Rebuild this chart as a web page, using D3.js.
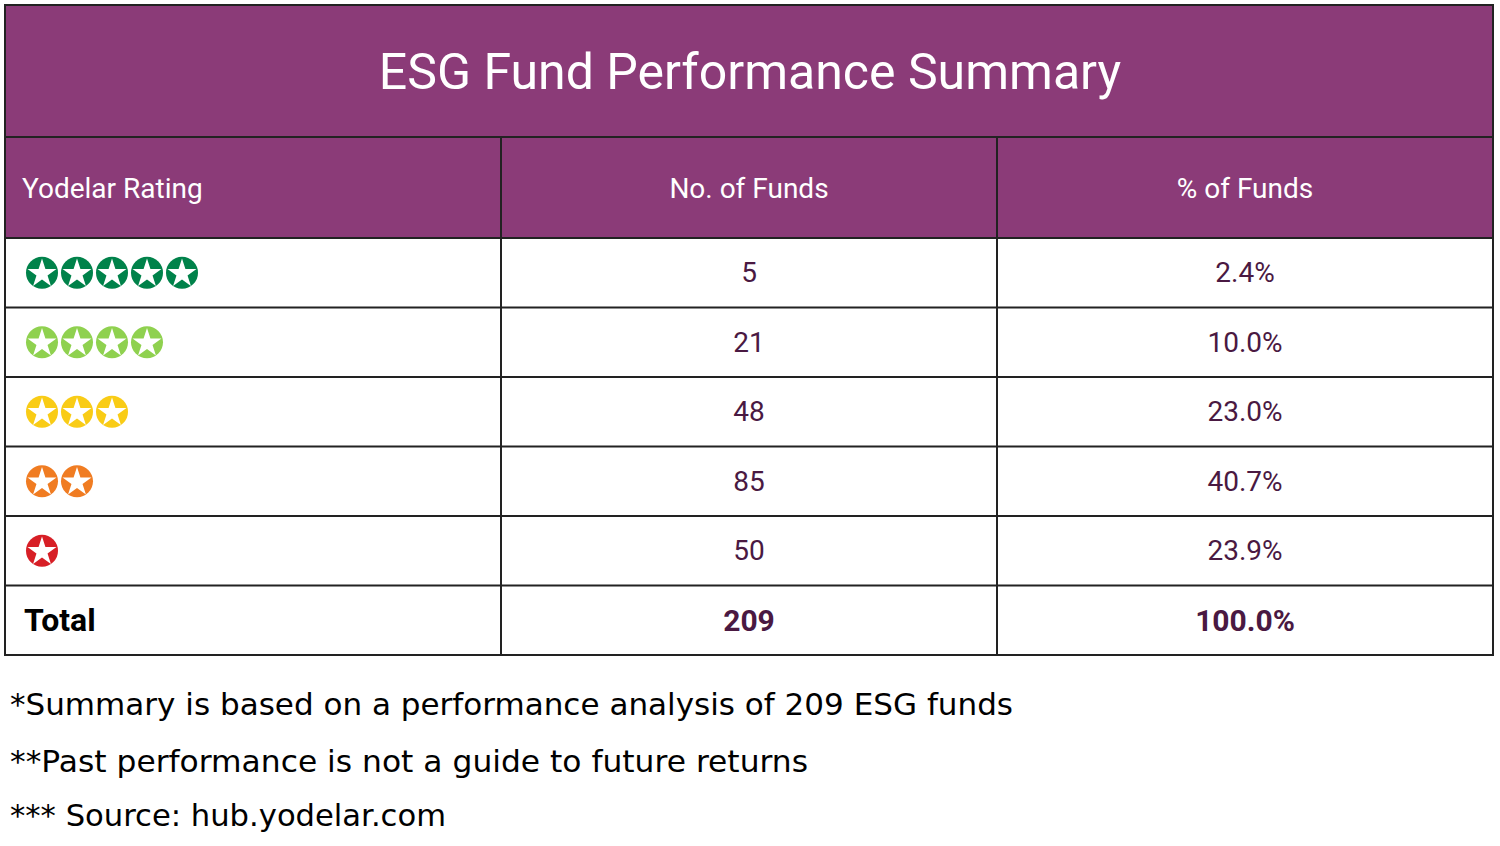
<!DOCTYPE html>
<html lang="en">
<head>
<meta charset="UTF-8">
<title>ESG Fund Performance Summary</title>
<script src="https://d3js.org/d3.v7.min.js"></script>
<style>body{margin:0;background:#fff}</style>
</head>
<body>
<div id="chart"></div>
<script>
// data
const title = "ESG Fund Performance Summary";
const headers = ["Yodelar Rating", "No. of Funds", "% of Funds"];
const stars = [5, 4, 3, 2, 1];
const funds = [5, 21, 48, 85, 50];
const pcts = ["2.4%", "10.0%", "23.0%", "40.7%", "23.9%"];
const totalLabel = "Total", totalFunds = 209, totalPct = "100.0%";
const starColors = ["#00824a", "#8fd14f", "#f9cc16", "#f07c22", "#d71f26"];
const notes = ["*Summary is based on a performance analysis of 209 ESG funds",
  "**Past performance is not a guide to future returns",
  "*** Source: hub.yodelar.com"];

const W = 1500, H = 846, purple = "#8b3b78", textCol = "#4a1942";
const svg = d3.select("#chart").append("svg").attr("width", W).attr("height", H);

const x = d3.scaleBand().domain([0, 1, 2]).range([5, 1493]);
const rowIdx = d3.range(stars.length + 1);
const y = d3.scaleBand().domain(rowIdx).range([238, 655]);

// title + header band
svg.append("rect").attr("x", 5).attr("y", 5).attr("width", 1488).attr("height", 233).attr("fill", purple);
svg.append("text").attr("x", W / 2).attr("y", 72).attr("text-anchor", "middle")
  .attr("dominant-baseline", "central").attr("fill", "#fff")
  .style("font", "50px Roboto").text(title);
svg.append("text").attr("x", 22).attr("y", 188).attr("dominant-baseline", "central")
  .attr("fill", "#fff").style("font", "28px Roboto").text(headers[0]);
headers.slice(1).forEach((h, i) => {
  svg.append("text").attr("x", x(i + 1) + x.bandwidth() / 2).attr("y", 188)
    .attr("text-anchor", "middle").attr("dominant-baseline", "central")
    .attr("fill", "#fff").style("font", "28px Roboto").text(h);
});

// body rows
const rows = svg.selectAll("g.row").data(rowIdx).join("g")
  .attr("transform", d => `translate(0,${y(d) + y.bandwidth() / 2})`);
rows.each(function(r) {
  const g = d3.select(this);
  const isTotal = r === stars.length;
  const weight = isTotal ? "bold " : "";
  if (isTotal) {
    g.append("text").attr("x", 24).attr("dominant-baseline", "central")
      .attr("fill", "#000").style("font", "bold 32px Roboto").text(totalLabel);
  } else {
    const star = d3.symbol().type(d3.symbolStar).size(260);
    d3.range(stars[r]).forEach(k => {
      const sg = g.append("g").attr("transform", `translate(${42 + k * 35},0)`);
      sg.append("circle").attr("r", 16).attr("fill", starColors[r]);
      sg.append("path").attr("d", star).attr("fill", "#fff").attr("transform", "translate(0,1)");
    });
  }
  g.append("text").attr("x", x(1) + x.bandwidth() / 2).attr("text-anchor", "middle")
    .attr("dominant-baseline", "central").attr("fill", textCol)
    .style("font", weight + (isTotal ? "30px" : "28px") + " Roboto")
    .text(isTotal ? totalFunds : funds[r]);
  g.append("text").attr("x", x(2) + x.bandwidth() / 2).attr("text-anchor", "middle")
    .attr("dominant-baseline", "central").attr("fill", textCol)
    .style("font", weight + (isTotal ? "30px" : "28px") + " Roboto")
    .text(isTotal ? totalPct : pcts[r]);
});

// grid lines
const lines = svg.append("g").attr("stroke", "#222").attr("stroke-width", 2).attr("fill", "none");
lines.append("rect").attr("x", 5).attr("y", 5).attr("width", 1488).attr("height", 650);
lines.append("line").attr("x1", 5).attr("x2", 1493).attr("y1", 137).attr("y2", 137);
rowIdx.forEach(r => lines.append("line").attr("x1", 5).attr("x2", 1493).attr("y1", y(r)).attr("y2", y(r)));
[1, 2].forEach(c => lines.append("line").attr("x1", x(c)).attr("x2", x(c)).attr("y1", 137).attr("y2", 655));

// footnotes
svg.selectAll("text.note").data(notes).join("text").attr("class", "note")
  .attr("x", 10).attr("y", (d, i) => [704, 761, 815][i]).attr("dominant-baseline", "central")
  .attr("fill", "#000").style("font", "30px 'DejaVu Sans'")
  .attr("textLength", (d, i) => [1003, 798, 436][i]).attr("lengthAdjust", "spacingAndGlyphs")
  .text(d => d);
</script>
</body>
</html>
